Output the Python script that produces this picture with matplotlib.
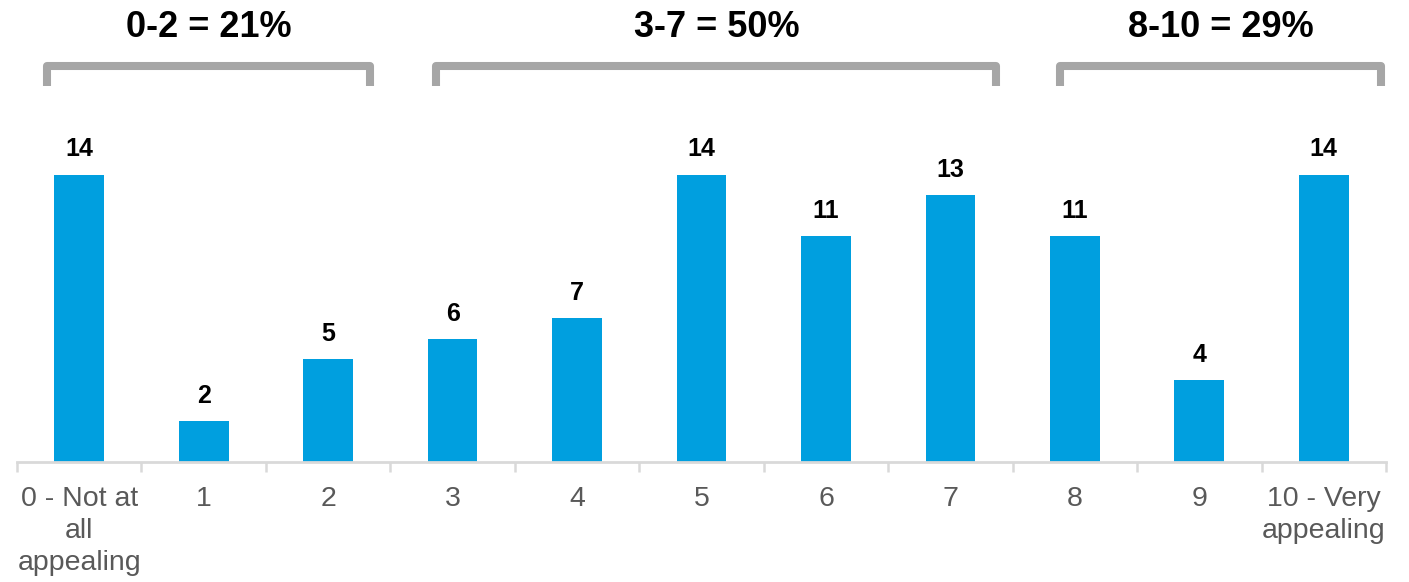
import numpy as np
import matplotlib
matplotlib.use("Agg")
import matplotlib.pyplot as plt

plt.rcParams['font.family'] = ['Liberation Sans', 'DejaVu Sans']

# Appeal scores 0-10 and the share of respondents giving each score
categories = ['0 - Not at\nall\nappealing', '1', '2', '3', '4', '5', '6', '7', '8', '9',
              '10 - Very\nappealing']
values = [14, 2, 5, 6, 7, 14, 11, 13, 11, 4, 14]

# score bands and their totals (%)
group_ranges = [(0, 2), (3, 7), (8, 10)]
group_labels = ['0-2 = 21%', '3-7 = 50%', '8-10 = 29%']

bar_color = '#009FDF'
axis_color = '#D9D9D9'
bracket_color = '#A6A6A6'
# how far each bracket reaches past its first / last bar
bracket_pad = [(0.26, 0.34), (0.13, 0.37), (0.12, 0.46)]

fig = plt.figure(figsize=(14.09, 5.82), dpi=100)
ax = fig.add_axes([17 / 1409, 120 / 582, 1369 / 1409, 462 / 582])

x = np.arange(len(categories))
bars = ax.bar(x, values, width=0.4, color=bar_color, zorder=2)

for xi, v in zip(x, values):
    ax.annotate(str(v), (xi, v), xytext=(0, 13), textcoords='offset points',
                ha='center', va='baseline', fontsize=18, fontweight='bold',
                color='black')

ax.set_xlim(-0.5, len(categories) - 0.5)
ax.set_ylim(0, 22.5)

# category labels under the axis, ticks on the category boundaries
ax.set_xticks(x)
ax.set_xticklabels(categories, fontsize=20.5, color='#595959', linespacing=1.3)
ax.tick_params(axis='x', which='major', length=0, pad=17)
ax.set_xticks(np.arange(-0.5, len(categories)), minor=True)
ax.tick_params(axis='x', which='minor', length=7, width=1.8, color=axis_color,
               direction='out')
ax.set_yticks([])

for side in ['top', 'right', 'left']:
    ax.spines[side].set_visible(False)
ax.spines['bottom'].set_color(axis_color)
ax.spines['bottom'].set_linewidth(2)

# brackets over each score band
top_y, leg_y = 19.27, 18.3
for (lo, hi), (pl, pr), label in zip(group_ranges, bracket_pad, group_labels):
    left, right = lo - pl, hi + pr
    ax.plot([left, left, right, right], [leg_y, top_y, top_y, leg_y],
            color=bracket_color, lw=5.8, solid_joinstyle='round',
            solid_capstyle='butt', clip_on=False)
    ax.text((left + right) / 2, 21.15, label, ha='center', va='center',
            fontsize=26, fontweight='bold', color='black', clip_on=False)

fig.savefig('out.png', dpi=100)
